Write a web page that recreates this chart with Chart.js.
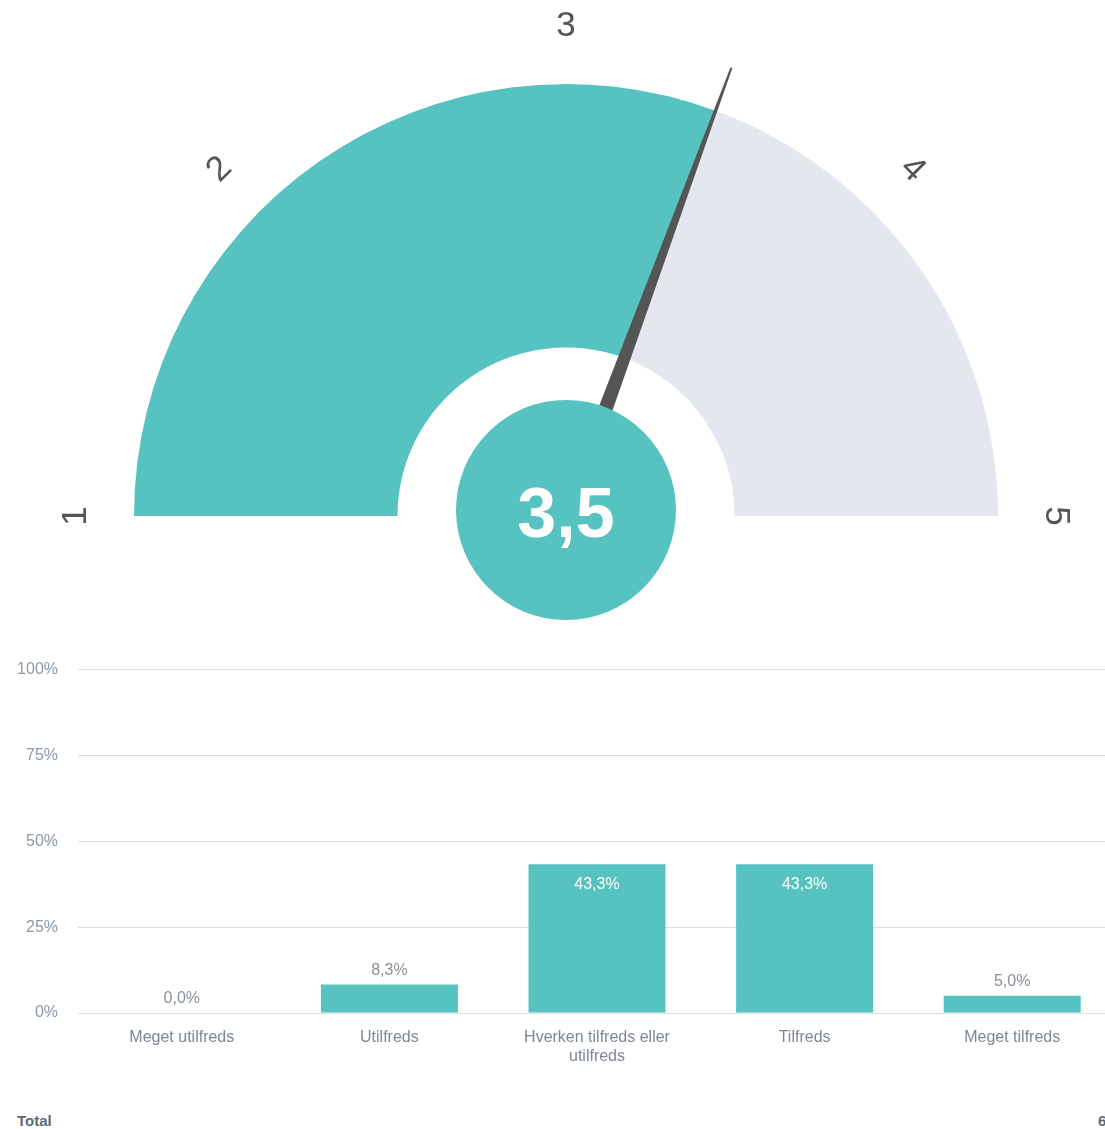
<!DOCTYPE html>
<html lang="da">
<head>
    <meta charset="UTF-8">
    <title>Tilfredshed</title>
    <script src="https://cdn.jsdelivr.net/npm/chart.js"></script>
    <style>
        body {
            margin: 0;
            background: #fff;
            overflow: hidden;
            width: 1105px;
            height: 1129px;
            font-family: 'Liberation Sans', Arial, sans-serif;
        }

        #page {
            position: relative;
            width: 1116px;
        }

        canvas {
            display: block;
        }

        .total {
            position: absolute;
            top: 1112px;
            font-size: 15px;
            font-weight: bold;
            color: #5d6b79;
        }
    </style>
</head>
<body>
    <div id="page">
        <canvas id="gauge" width="1105" height="640"></canvas>
        <canvas id="bars" width="1116" height="440"></canvas>
        <span class="total" style="left:17px">Total</span>
        <span class="total" style="left:1098px">60</span>
    </div>

    <script>
        // gauge
        const gaugeTicks = [1, 2, 3, 4, 5];
        const gaugeValue = 3.45;
        const gaugeText = '3,5';

        // bars
        const categories = ['Meget utilfreds', 'Utilfreds', ['Hverken tilfreds eller', 'utilfreds'], 'Tilfreds', 'Meget tilfreds'];
        const percents = [0.0, 8.3, 43.3, 43.3, 5.0];
        const yTicks = [0, 25, 50, 75, 100];

        const teal = '#57c3c0';
        const grey = '#e4e7ed';

        Chart.defaults.font.family = "'Liberation Sans', Arial, sans-serif";
        Chart.defaults.animation = false;

        const gMin = gaugeTicks[0];
        const gMax = gaugeTicks[gaugeTicks.length - 1];

        const gaugeExtras = {
            id: 'gaugeExtras',
            afterDatasetsDraw(chart) {
                const arc = chart.getDatasetMeta(0).data[0];
                const cx = arc.x, cy = arc.y, r = arc.outerRadius;
                const c = chart.ctx;

                // tick labels round the arc
                c.save();
                c.fillStyle = '#555';
                c.font = '35px "Liberation Sans", Arial, sans-serif';
                c.textAlign = 'center';
                c.textBaseline = 'middle';
                gaugeTicks.forEach(t => {
                    const a = -Math.PI + (t - gMin) / (gMax - gMin) * Math.PI;
                    c.save();
                    c.translate(cx + Math.cos(a) * (r + 60), cy + Math.sin(a) * (r + 60));
                    c.rotate(a + Math.PI / 2);
                    c.fillText(String(t), 0, 2);
                    c.restore();
                });

                // needle
                const a = -Math.PI + (gaugeValue - gMin) / (gMax - gMin) * Math.PI;
                const len = r + 46;
                const px = -Math.sin(a), py = Math.cos(a);
                c.fillStyle = '#555';
                c.beginPath();
                c.moveTo(cx + px * 9, cy + py * 9);
                c.lineTo(cx + Math.cos(a) * len + px * 1, cy + Math.sin(a) * len + py * 1);
                c.lineTo(cx + Math.cos(a) * len - px * 1, cy + Math.sin(a) * len - py * 1);
                c.lineTo(cx - px * 9, cy - py * 9);
                c.closePath();
                c.fill();

                // centre disc
                c.fillStyle = teal;
                c.beginPath();
                c.arc(cx, cy - 6, 110, 0, Math.PI * 2);
                c.fill();

                c.fillStyle = '#fff';
                c.font = 'bold 70px "Liberation Sans", Arial, sans-serif';
                c.fillText(gaugeText, cx, cy + 2);
                c.restore();
            }
        };

        new Chart(document.getElementById('gauge'), {
            type: 'doughnut',
            data: {
                datasets: [{
                    data: [gaugeValue - gMin, gMax - gaugeValue],
                    backgroundColor: [teal, grey],
                    borderWidth: 0,
                    hoverOffset: 0
                }]
            },
            options: {
                responsive: false,
                rotation: -90,
                circumference: 180,
                cutout: '39%',
                layout: { padding: { left: 134, right: 107, top: 84, bottom: 124 } },
                plugins: { legend: { display: false }, tooltip: { enabled: false } },
                events: []
            },
            plugins: [gaugeExtras]
        });

        const valueLabels = {
            id: 'valueLabels',
            afterDatasetsDraw(chart) {
                const c = chart.ctx;
                c.save();
                c.font = '16px "Liberation Sans", Arial, sans-serif';
                c.textAlign = 'center';
                c.textBaseline = 'middle';
                chart.getDatasetMeta(0).data.forEach((bar, i) => {
                    const txt = percents[i].toFixed(1).replace('.', ',') + '%';
                    if (bar.base - bar.y > 40) {
                        c.fillStyle = '#ffffff';
                        c.fillText(txt, bar.x, bar.y + 20);
                    } else {
                        c.fillStyle = '#8a9096';
                        c.fillText(txt, bar.x, bar.y - 14);
                    }
                });
                c.restore();
            }
        };

        new Chart(document.getElementById('bars'), {
            type: 'bar',
            data: {
                labels: categories,
                datasets: [{
                    data: percents,
                    backgroundColor: teal,
                    borderWidth: 0,
                    categoryPercentage: 1,
                    barPercentage: 0.66
                }]
            },
            options: {
                responsive: false,
                layout: { padding: { top: 29, bottom: 7, left: 0, right: 0 } },
                plugins: { legend: { display: false }, tooltip: { enabled: false } },
                events: [],
                scales: {
                    x: {
                        grid: { display: false, drawTicks: false },
                        border: { display: false },
                        ticks: { color: '#7f8792', font: { size: 16 }, padding: 15, maxRotation: 0 },
                        afterFit(s) { s.height = 60; }
                    },
                    y: {
                        min: 0,
                        max: 100,
                        afterBuildTicks(s) { s.ticks = yTicks.map(v => ({ value: v })); },
                        grid: { color: '#dddddd', drawTicks: false },
                        border: { display: false },
                        ticks: { color: '#8d98a5', font: { size: 16 }, padding: 20, callback: v => v + '%' },
                        afterFit(s) { s.width = 78; }
                    }
                }
            },
            plugins: [valueLabels]
        });
    </script>
</body>
</html>
